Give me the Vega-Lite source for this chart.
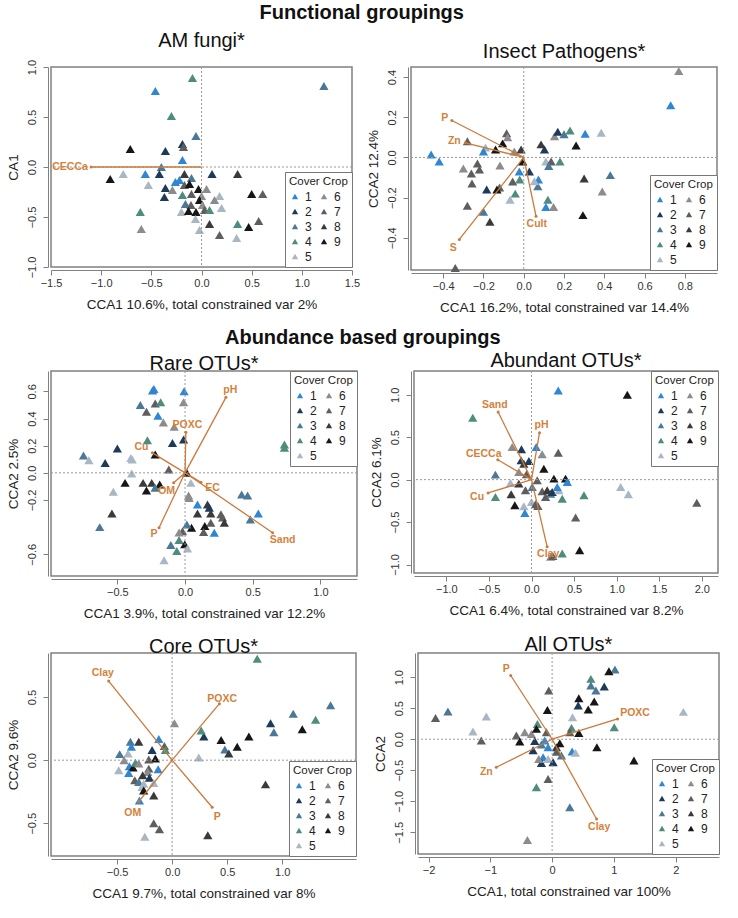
{
"$schema": "https://vega.github.io/schema/vega-lite/v6.json",
"padding": {"left": 5, "top": 2, "right": 5, "bottom": 5},
"config": {
 "font": "Liberation Sans",
 "view": {"stroke": "#808080", "strokeWidth": 1.5},
 "axis": {"grid": false, "domainColor": "#808080", "tickColor": "#808080", "labelColor": "#333", "labelFontSize": 11, "titleFontSize": 13.5, "titleFontWeight": "normal", "titleColor": "#222", "tickSize": 5, "offset": 3, "labelFlush": false, "labelOverlap": false},
 "axisX": {"titlePadding": 9},
 "axisY": {"labelAngle": -90, "labelAlign": "center", "labelBaseline": "bottom", "labelPadding": 6, "titlePadding": 6},
 "legend": {"strokeColor": "#777", "fillColor": "white", "padding": 4, "columns": 2, "columnPadding": 6, "rowPadding": 3, "symbolType": "triangle-up", "symbolSize": 40, "labelFontSize": 12, "labelOffset": 4, "titleFontSize": 11.5, "titleFontWeight": "normal", "titleColor": "#222", "labelColor": "#222", "offset": 0, "titlePadding": 3},
 "title": {"fontSize": 20, "fontWeight": "normal", "color": "#111", "offset": 2}
},
"datasets": {
 "pts": [
{"p":"am","x":-0.46,"y":0.76,"c":1},{"p":"am","x":-0.09,"y":0.89,"c":4},{"p":"am","x":1.22,"y":0.81,"c":3},{"p":"am","x":-0.30,"y":0.51,"c":4},{"p":"am","x":-0.055,"y":0.31,"c":3},{"p":"am","x":-0.71,"y":0.18,"c":9},{"p":"am","x":-0.36,"y":0.16,"c":2},{"p":"am","x":-0.19,"y":0.23,"c":2},{"p":"am","x":-0.18,"y":0.20,"c":7},{"p":"am","x":-0.19,"y":0.07,"c":1},{"p":"am","x":-0.40,"y":0.0,"c":3},{"p":"am","x":-0.91,"y":-0.12,"c":9},{"p":"am","x":-0.78,"y":-0.07,"c":5},{"p":"am","x":-0.56,"y":-0.07,"c":1},{"p":"am","x":-0.53,"y":-0.18,"c":5},{"p":"am","x":-0.42,"y":-0.07,"c":2},{"p":"am","x":-0.36,"y":-0.21,"c":2},{"p":"am","x":-0.37,"y":-0.30,"c":2},{"p":"am","x":-0.26,"y":-0.15,"c":1},{"p":"am","x":-0.22,"y":-0.13,"c":1},{"p":"am","x":-0.29,"y":-0.23,"c":6},{"p":"am","x":-0.17,"y":-0.07,"c":8},{"p":"am","x":-0.10,"y":-0.11,"c":3},{"p":"am","x":-0.17,"y":-0.18,"c":7},{"p":"am","x":-0.12,"y":-0.17,"c":9},{"p":"am","x":0.105,"y":-0.07,"c":2},{"p":"am","x":0.36,"y":-0.07,"c":8},{"p":"am","x":-0.03,"y":-0.22,"c":9},{"p":"am","x":0.05,"y":-0.22,"c":6},{"p":"am","x":-0.19,"y":-0.28,"c":4},{"p":"am","x":-0.10,"y":-0.27,"c":7},{"p":"am","x":0.0,"y":-0.29,"c":6},{"p":"am","x":0.18,"y":-0.29,"c":5},{"p":"am","x":-0.02,"y":-0.33,"c":9},{"p":"am","x":-0.16,"y":-0.37,"c":3},{"p":"am","x":-0.105,"y":-0.38,"c":7},{"p":"am","x":0.01,"y":-0.38,"c":6},{"p":"am","x":0.13,"y":-0.33,"c":6},{"p":"am","x":0.20,"y":-0.41,"c":5},{"p":"am","x":0.03,"y":-0.43,"c":7},{"p":"am","x":0.08,"y":-0.43,"c":4},{"p":"am","x":-0.20,"y":-0.45,"c":5},{"p":"am","x":-0.13,"y":-0.44,"c":9},{"p":"am","x":-0.055,"y":-0.45,"c":9},{"p":"am","x":-0.61,"y":-0.45,"c":4},{"p":"am","x":-0.60,"y":-0.62,"c":6},{"p":"am","x":-0.06,"y":-0.52,"c":5},{"p":"am","x":-0.02,"y":-0.63,"c":5},{"p":"am","x":0.08,"y":-0.57,"c":8},{"p":"am","x":0.18,"y":-0.68,"c":7},{"p":"am","x":0.36,"y":-0.57,"c":4},{"p":"am","x":0.35,"y":-0.71,"c":5},{"p":"am","x":0.47,"y":-0.60,"c":9},{"p":"am","x":0.57,"y":-0.54,"c":7},{"p":"am","x":0.50,"y":-0.27,"c":9},{"p":"am","x":0.61,"y":-0.27,"c":7},
{"p":"ip","x":0.77,"y":0.43,"c":6},{"p":"ip","x":0.73,"y":0.26,"c":1},{"p":"ip","x":-0.46,"y":0.015,"c":1},{"p":"ip","x":-0.42,"y":-0.02,"c":1},{"p":"ip","x":-0.28,"y":0.08,"c":7},{"p":"ip","x":-0.19,"y":0.05,"c":5},{"p":"ip","x":-0.20,"y":0.03,"c":1},{"p":"ip","x":-0.14,"y":0.04,"c":9},{"p":"ip","x":-0.085,"y":0.12,"c":7},{"p":"ip","x":-0.08,"y":0.10,"c":6},{"p":"ip","x":-0.105,"y":0.07,"c":9},{"p":"ip","x":-0.047,"y":0.03,"c":6},{"p":"ip","x":-0.013,"y":0.04,"c":8},{"p":"ip","x":-0.005,"y":-0.02,"c":9},{"p":"ip","x":-0.022,"y":-0.07,"c":1},{"p":"ip","x":0.028,"y":-0.07,"c":2},{"p":"ip","x":-0.02,"y":-0.11,"c":4},{"p":"ip","x":-0.055,"y":-0.12,"c":7},{"p":"ip","x":-0.042,"y":-0.18,"c":4},{"p":"ip","x":-0.068,"y":-0.21,"c":5},{"p":"ip","x":-0.12,"y":-0.15,"c":7},{"p":"ip","x":-0.133,"y":-0.16,"c":9},{"p":"ip","x":-0.184,"y":-0.16,"c":2},{"p":"ip","x":-0.23,"y":-0.03,"c":7},{"p":"ip","x":-0.22,"y":-0.06,"c":7},{"p":"ip","x":-0.30,"y":-0.055,"c":6},{"p":"ip","x":-0.26,"y":-0.08,"c":7},{"p":"ip","x":-0.257,"y":-0.13,"c":7},{"p":"ip","x":-0.28,"y":-0.24,"c":7},{"p":"ip","x":-0.20,"y":-0.27,"c":3},{"p":"ip","x":-0.168,"y":-0.32,"c":8},{"p":"ip","x":-0.118,"y":-0.04,"c":6},{"p":"ip","x":-0.34,"y":-0.55,"c":7},{"p":"ip","x":0.086,"y":0.065,"c":8},{"p":"ip","x":0.103,"y":0.04,"c":2},{"p":"ip","x":0.153,"y":0.106,"c":6},{"p":"ip","x":0.169,"y":0.128,"c":2},{"p":"ip","x":0.20,"y":0.115,"c":3},{"p":"ip","x":0.23,"y":0.134,"c":4},{"p":"ip","x":0.305,"y":0.118,"c":1},{"p":"ip","x":0.385,"y":0.123,"c":5},{"p":"ip","x":0.26,"y":0.06,"c":9},{"p":"ip","x":0.11,"y":-0.02,"c":5},{"p":"ip","x":0.136,"y":-0.02,"c":7},{"p":"ip","x":0.18,"y":-0.02,"c":4},{"p":"ip","x":0.124,"y":-0.043,"c":3},{"p":"ip","x":0.073,"y":-0.11,"c":1},{"p":"ip","x":0.07,"y":-0.143,"c":3},{"p":"ip","x":0.053,"y":-0.118,"c":5},{"p":"ip","x":0.12,"y":-0.21,"c":4},{"p":"ip","x":0.11,"y":-0.247,"c":1},{"p":"ip","x":0.148,"y":-0.247,"c":6},{"p":"ip","x":0.30,"y":-0.105,"c":8},{"p":"ip","x":0.43,"y":-0.088,"c":3},{"p":"ip","x":0.39,"y":-0.17,"c":6},{"p":"ip","x":0.294,"y":-0.287,"c":9},
{"p":"ra","x":-0.23,"y":0.617,"c":1},{"p":"ra","x":-0.24,"y":0.607,"c":1},{"p":"ra","x":-0.007,"y":0.60,"c":1},{"p":"ra","x":-0.011,"y":0.52,"c":6},{"p":"ra","x":-0.33,"y":0.50,"c":3},{"p":"ra","x":-0.22,"y":0.51,"c":7},{"p":"ra","x":-0.18,"y":0.52,"c":4},{"p":"ra","x":-0.285,"y":0.45,"c":7},{"p":"ra","x":-0.20,"y":0.42,"c":1},{"p":"ra","x":-0.16,"y":0.37,"c":6},{"p":"ra","x":-0.08,"y":0.34,"c":6},{"p":"ra","x":-0.093,"y":0.22,"c":2},{"p":"ra","x":-0.011,"y":0.245,"c":2},{"p":"ra","x":-0.278,"y":0.24,"c":4},{"p":"ra","x":-0.50,"y":0.18,"c":2},{"p":"ra","x":-0.75,"y":0.127,"c":3},{"p":"ra","x":-0.71,"y":0.093,"c":5},{"p":"ra","x":-0.59,"y":0.073,"c":2},{"p":"ra","x":-0.40,"y":0.11,"c":5},{"p":"ra","x":-0.39,"y":0.098,"c":5},{"p":"ra","x":-0.394,"y":-0.005,"c":5},{"p":"ra","x":-0.12,"y":0.024,"c":7},{"p":"ra","x":-0.22,"y":0.135,"c":9},{"p":"ra","x":0.013,"y":0.0,"c":9},{"p":"ra","x":-0.443,"y":-0.074,"c":9},{"p":"ra","x":-0.31,"y":-0.074,"c":8},{"p":"ra","x":-0.246,"y":-0.074,"c":8},{"p":"ra","x":-0.285,"y":-0.13,"c":9},{"p":"ra","x":-0.187,"y":-0.086,"c":9},{"p":"ra","x":-0.221,"y":-0.11,"c":3},{"p":"ra","x":-0.53,"y":-0.14,"c":5},{"p":"ra","x":-0.54,"y":-0.30,"c":8},{"p":"ra","x":-0.63,"y":-0.40,"c":3},{"p":"ra","x":0.043,"y":-0.074,"c":5},{"p":"ra","x":0.026,"y":-0.167,"c":6},{"p":"ra","x":0.03,"y":-0.185,"c":6},{"p":"ra","x":0.092,"y":-0.233,"c":1},{"p":"ra","x":0.092,"y":-0.30,"c":8},{"p":"ra","x":0.166,"y":-0.233,"c":8},{"p":"ra","x":0.179,"y":-0.257,"c":2},{"p":"ra","x":0.19,"y":-0.30,"c":8},{"p":"ra","x":0.265,"y":-0.306,"c":7},{"p":"ra","x":0.277,"y":-0.33,"c":7},{"p":"ra","x":0.29,"y":-0.367,"c":8},{"p":"ra","x":0.19,"y":-0.367,"c":7},{"p":"ra","x":0.146,"y":-0.392,"c":9},{"p":"ra","x":0.137,"y":-0.436,"c":7},{"p":"ra","x":0.216,"y":-0.441,"c":1},{"p":"ra","x":0.048,"y":-0.404,"c":9},{"p":"ra","x":0.013,"y":-0.38,"c":3},{"p":"ra","x":-0.019,"y":-0.43,"c":7},{"p":"ra","x":-0.044,"y":-0.44,"c":6},{"p":"ra","x":-0.044,"y":-0.495,"c":4},{"p":"ra","x":-0.105,"y":-0.532,"c":3},{"p":"ra","x":-0.061,"y":-0.576,"c":4},{"p":"ra","x":-0.002,"y":-0.527,"c":9},{"p":"ra","x":0.018,"y":-0.558,"c":5},{"p":"ra","x":-0.155,"y":-0.644,"c":5},{"p":"ra","x":0.418,"y":-0.159,"c":3},{"p":"ra","x":0.462,"y":-0.167,"c":3},{"p":"ra","x":0.541,"y":-0.30,"c":1},{"p":"ra","x":0.482,"y":-0.343,"c":3},{"p":"ra","x":0.734,"y":0.208,"c":4},{"p":"ra","x":0.734,"y":0.184,"c":4},
{"p":"ab","x":0.314,"y":1.05,"c":1},{"p":"ab","x":1.125,"y":1.0,"c":9},{"p":"ab","x":-0.69,"y":0.729,"c":4},{"p":"ab","x":-0.227,"y":0.384,"c":6},{"p":"ab","x":-0.118,"y":0.357,"c":2},{"p":"ab","x":0.055,"y":0.384,"c":1},{"p":"ab","x":0.125,"y":0.298,"c":6},{"p":"ab","x":0.314,"y":0.318,"c":7},{"p":"ab","x":-0.122,"y":0.227,"c":2},{"p":"ab","x":-0.031,"y":0.22,"c":2},{"p":"ab","x":-0.09,"y":0.188,"c":8},{"p":"ab","x":0.145,"y":0.129,"c":9},{"p":"ab","x":-0.424,"y":0.059,"c":3},{"p":"ab","x":-0.149,"y":0.09,"c":6},{"p":"ab","x":-0.059,"y":0.063,"c":7},{"p":"ab","x":0.067,"y":-0.008,"c":7},{"p":"ab","x":0.263,"y":0.012,"c":9},{"p":"ab","x":0.40,"y":0.012,"c":9},{"p":"ab","x":0.42,"y":-0.027,"c":1},{"p":"ab","x":-0.247,"y":-0.039,"c":5},{"p":"ab","x":-0.149,"y":-0.047,"c":8},{"p":"ab","x":-0.071,"y":-0.125,"c":7},{"p":"ab","x":0.008,"y":-0.086,"c":3},{"p":"ab","x":0.125,"y":-0.137,"c":7},{"p":"ab","x":0.224,"y":-0.165,"c":3},{"p":"ab","x":0.243,"y":-0.145,"c":2},{"p":"ab","x":0.322,"y":-0.125,"c":5},{"p":"ab","x":0.302,"y":-0.086,"c":1},{"p":"ab","x":0.165,"y":-0.204,"c":7},{"p":"ab","x":-0.239,"y":-0.173,"c":8},{"p":"ab","x":-0.424,"y":-0.204,"c":4},{"p":"ab","x":0.184,"y":-0.125,"c":8},{"p":"ab","x":-0.196,"y":-0.302,"c":9},{"p":"ab","x":-0.09,"y":-0.314,"c":5},{"p":"ab","x":0.0,"y":-0.263,"c":5},{"p":"ab","x":-0.078,"y":-0.392,"c":1},{"p":"ab","x":0.047,"y":-0.29,"c":7},{"p":"ab","x":0.075,"y":-0.31,"c":7},{"p":"ab","x":0.361,"y":-0.224,"c":4},{"p":"ab","x":0.616,"y":-0.184,"c":4},{"p":"ab","x":1.047,"y":-0.086,"c":5},{"p":"ab","x":1.137,"y":-0.173,"c":5},{"p":"ab","x":1.941,"y":-0.271,"c":7},{"p":"ab","x":0.518,"y":-0.447,"c":7},{"p":"ab","x":0.565,"y":-0.831,"c":9},{"p":"ab","x":0.361,"y":-0.871,"c":4},{"p":"ab","x":0.224,"y":-0.91,"c":6},{"p":"ab","x":0.25,"y":-0.9,"c":7},
{"p":"co","x":0.773,"y":0.805,"c":4},{"p":"co","x":1.439,"y":0.435,"c":3},{"p":"co","x":1.10,"y":0.368,"c":3},{"p":"co","x":1.303,"y":0.32,"c":4},{"p":"co","x":0.894,"y":0.293,"c":2},{"p":"co","x":0.924,"y":0.221,"c":3},{"p":"co","x":1.182,"y":0.245,"c":9},{"p":"co","x":0.697,"y":0.187,"c":9},{"p":"co","x":0.848,"y":-0.192,"c":8},{"p":"co","x":0.445,"y":0.16,"c":9},{"p":"co","x":0.591,"y":0.107,"c":9},{"p":"co","x":0.479,"y":0.085,"c":3},{"p":"co","x":0.515,"y":0.053,"c":8},{"p":"co","x":0.288,"y":0.187,"c":2},{"p":"co","x":0.264,"y":0.235,"c":4},{"p":"co","x":0.242,"y":0.021,"c":5},{"p":"co","x":0.021,"y":0.293,"c":6},{"p":"co","x":-0.121,"y":0.168,"c":1},{"p":"co","x":-0.07,"y":0.112,"c":7},{"p":"co","x":-0.061,"y":0.08,"c":4},{"p":"co","x":-0.182,"y":0.08,"c":2},{"p":"co","x":-0.152,"y":0.013,"c":9},{"p":"co","x":-0.127,"y":-0.072,"c":1},{"p":"co","x":-0.212,"y":-0.067,"c":7},{"p":"co","x":-0.221,"y":-0.093,"c":6},{"p":"co","x":-0.206,"y":-0.139,"c":2},{"p":"co","x":-0.167,"y":-0.181,"c":5},{"p":"co","x":-0.267,"y":-0.12,"c":8},{"p":"co","x":-0.303,"y":0.147,"c":8},{"p":"co","x":-0.379,"y":0.147,"c":3},{"p":"co","x":-0.37,"y":0.107,"c":1},{"p":"co","x":-0.40,"y":0.053,"c":5},{"p":"co","x":-0.476,"y":0.048,"c":3},{"p":"co","x":-0.485,"y":-0.08,"c":5},{"p":"co","x":-0.436,"y":0.0,"c":6},{"p":"co","x":-0.388,"y":-0.048,"c":1},{"p":"co","x":-0.355,"y":-0.059,"c":9},{"p":"co","x":-0.333,"y":-0.02,"c":4},{"p":"co","x":-0.303,"y":-0.027,"c":6},{"p":"co","x":-0.394,"y":-0.101,"c":1},{"p":"co","x":-0.339,"y":-0.16,"c":7},{"p":"co","x":-0.303,"y":-0.173,"c":3},{"p":"co","x":-0.258,"y":-0.187,"c":5},{"p":"co","x":-0.273,"y":-0.213,"c":5},{"p":"co","x":-0.258,"y":-0.24,"c":9},{"p":"co","x":-0.297,"y":-0.32,"c":1},{"p":"co","x":-0.167,"y":-0.28,"c":8},{"p":"co","x":-0.167,"y":-0.501,"c":7},{"p":"co","x":-0.115,"y":-0.547,"c":7},{"p":"co","x":-0.248,"y":-0.608,"c":5},{"p":"co","x":0.324,"y":-0.595,"c":8},{"p":"co","x":-0.212,"y":0.005,"c":7},
{"p":"al","x":1.016,"y":1.124,"c":3},{"p":"al","x":0.919,"y":1.097,"c":9},{"p":"al","x":0.627,"y":0.973,"c":4},{"p":"al","x":0.627,"y":0.866,"c":3},{"p":"al","x":0.708,"y":0.785,"c":3},{"p":"al","x":0.843,"y":0.849,"c":2},{"p":"al","x":-0.054,"y":0.785,"c":7},{"p":"al","x":0.432,"y":0.661,"c":9},{"p":"al","x":0.681,"y":0.608,"c":9},{"p":"al","x":0.422,"y":0.543,"c":2},{"p":"al","x":0.584,"y":0.478,"c":9},{"p":"al","x":-0.076,"y":0.473,"c":9},{"p":"al","x":0.33,"y":0.355,"c":5},{"p":"al","x":-1.686,"y":0.446,"c":3},{"p":"al","x":-1.886,"y":0.344,"c":7},{"p":"al","x":-1.065,"y":0.366,"c":5},{"p":"al","x":-1.281,"y":0.124,"c":5},{"p":"al","x":-1.146,"y":-0.022,"c":7},{"p":"al","x":-0.578,"y":0.059,"c":7},{"p":"al","x":-0.524,"y":-0.038,"c":9},{"p":"al","x":-0.443,"y":0.113,"c":6},{"p":"al","x":-0.335,"y":0.086,"c":6},{"p":"al","x":-0.238,"y":0.247,"c":4},{"p":"al","x":-0.254,"y":0.167,"c":9},{"p":"al","x":-0.092,"y":0.113,"c":7},{"p":"al","x":0.314,"y":0.183,"c":4},{"p":"al","x":0.286,"y":0.113,"c":7},{"p":"al","x":0.432,"y":0.102,"c":9},{"p":"al","x":1.005,"y":0.194,"c":4},{"p":"al","x":2.124,"y":0.441,"c":5},{"p":"al","x":-0.281,"y":-0.027,"c":2},{"p":"al","x":-0.308,"y":-0.177,"c":2},{"p":"al","x":-0.173,"y":-0.086,"c":3},{"p":"al","x":-0.119,"y":-0.022,"c":1},{"p":"al","x":-0.065,"y":-0.129,"c":1},{"p":"al","x":-0.146,"y":-0.29,"c":1},{"p":"al","x":-0.173,"y":-0.382,"c":2},{"p":"al","x":-0.216,"y":-0.317,"c":6},{"p":"al","x":-0.065,"y":-0.317,"c":5},{"p":"al","x":0.016,"y":-0.371,"c":2},{"p":"al","x":0.07,"y":-0.129,"c":8},{"p":"al","x":0.124,"y":-0.064,"c":9},{"p":"al","x":0.151,"y":-0.263,"c":3},{"p":"al","x":0.324,"y":-0.199,"c":1},{"p":"al","x":0.378,"y":-0.22,"c":5},{"p":"al","x":0.07,"y":-0.2,"c":7},{"p":"al","x":0.724,"y":-0.129,"c":9},{"p":"al","x":1.324,"y":-0.344,"c":9},{"p":"al","x":-0.065,"y":-0.64,"c":7},{"p":"al","x":-0.254,"y":-0.774,"c":4},{"p":"al","x":0.286,"y":-1.097,"c":3},{"p":"al","x":-0.40,"y":-1.624,"c":6}
 ],
 "arr": [
{"p":"am","label":"CECCa","x0":0,"y0":0,"x":-1.1,"y":0,"lx":-1.31,"ly":0},
{"p":"ip","label":"P","x0":0,"y0":0,"x":-0.357,"y":0.184,"lx":-0.392,"ly":0.197},{"p":"ip","label":"Zn","x0":0,"y0":0,"x":-0.29,"y":0.073,"lx":-0.345,"ly":0.081},{"p":"ip","label":"S","x0":0,"y0":0,"x":-0.32,"y":-0.408,"lx":-0.35,"ly":-0.45},{"p":"ip","label":"Cult","x0":0,"y0":0,"x":0.061,"y":-0.292,"lx":0.065,"ly":-0.332},
{"p":"ra","label":"pH","x0":0,"y0":0,"x":0.302,"y":0.556,"lx":0.334,"ly":0.607},{"p":"ra","label":"POXC","x0":0,"y0":0,"x":0.006,"y":0.299,"lx":0.018,"ly":0.35},{"p":"ra","label":"Cu","x0":0,"y0":0,"x":-0.241,"y":0.147,"lx":-0.322,"ly":0.191},{"p":"ra","label":"OM","x0":0,"y0":0,"x":-0.084,"y":-0.073,"lx":-0.136,"ly":-0.135},{"p":"ra","label":"EC","x0":0,"y0":0,"x":0.118,"y":-0.069,"lx":0.204,"ly":-0.11},{"p":"ra","label":"P","x0":0,"y0":0,"x":-0.192,"y":-0.404,"lx":-0.229,"ly":-0.453},{"p":"ra","label":"Sand","x0":0,"y0":0,"x":0.647,"y":-0.441,"lx":0.721,"ly":-0.497},
{"p":"ab","label":"Sand","x0":0,"y0":0,"x":-0.392,"y":0.796,"lx":-0.431,"ly":0.882},{"p":"ab","label":"pH","x0":0,"y0":0,"x":0.094,"y":0.553,"lx":0.118,"ly":0.639},{"p":"ab","label":"CECCa","x0":0,"y0":0,"x":-0.396,"y":0.235,"lx":-0.561,"ly":0.298},{"p":"ab","label":"Cu","x0":0,"y0":0,"x":-0.51,"y":-0.157,"lx":-0.639,"ly":-0.204},{"p":"ab","label":"Clay","x0":0,"y0":0,"x":0.184,"y":-0.792,"lx":0.196,"ly":-0.878},
{"p":"co","label":"Clay","x0":0,"y0":0,"x":-0.576,"y":0.627,"lx":-0.63,"ly":0.693},{"p":"co","label":"POXC","x0":0,"y0":0,"x":0.43,"y":0.448,"lx":0.455,"ly":0.488},{"p":"co","label":"OM","x0":0,"y0":0,"x":-0.303,"y":-0.328,"lx":-0.358,"ly":-0.419},{"p":"co","label":"P","x0":0,"y0":0,"x":0.364,"y":-0.373,"lx":0.409,"ly":-0.448},
{"p":"al","label":"P","x0":0,"y0":0,"x":-0.67,"y":1.027,"lx":-0.741,"ly":1.134},{"p":"al","label":"POXC","x0":0,"y0":0,"x":1.059,"y":0.328,"lx":1.341,"ly":0.419},{"p":"al","label":"Zn","x0":0,"y0":0,"x":-0.903,"y":-0.452,"lx":-1.065,"ly":-0.532},{"p":"al","label":"Clay","x0":0,"y0":0,"x":0.719,"y":-1.285,"lx":0.762,"ly":-1.409}
 ]
},
"resolve": {"scale": {"color": "independent"}, "legend": {"color": "independent"}},
"spacing": 12,
"vconcat": [
{
 "title": {"text": "Functional groupings", "fontWeight": "bold", "fontSize": 20, "anchor": "middle", "offset": 8},
 "resolve": {"scale": {"color": "independent"}, "legend": {"color": "independent"}},
 "spacing": 4,
 "hconcat": [
  {"width": 301, "height": 200, "title": {"text": "AM fungi*", "offset": 8},
   "layer": [
    {"data": {"name": "pts"}, "transform": [{"filter": "datum.p == 'am'"}], "mark": {"type": "point", "shape": "triangle-up", "filled": true, "size": 85, "opacity": 1}, "encoding": {"x": {"field": "x", "type": "quantitative", "scale": {"domain": [-1.5, 1.5], "nice": false, "zero": false}, "title": "CCA1 10.6%, total constrained var 2%", "axis": {"values": [-1.5, -1, -0.5, 0, 0.5, 1, 1.5], "format": ".1f"}}, "y": {"field": "y", "type": "quantitative", "scale": {"domain": [-1, 1], "nice": false, "zero": false}, "title": "CA1", "axis": {"values": [-1, -0.5, 0, 0.5, 1], "format": ".1f"}}, "color": {"field": "c", "type": "nominal", "scale": {"domain": [1, 2, 3, 4, 5, 6, 7, 8, 9], "range": ["#2e86d4", "#1e3a5a", "#4a7896", "#4e8c7e", "#a9b6c4", "#8c8c8c", "#5e5e5e", "#3a3a3a", "#161616"]}, "legend": {"title": "Cover Crop", "orient": "bottom-right"}}}},
    {"data": {"values": [{}]}, "mark": {"type": "rule", "color": "#9a9a9a", "strokeDash": [2, 2]}, "encoding": {"x": {"datum": 0, "type": "quantitative"}}},
    {"data": {"values": [{}]}, "mark": {"type": "rule", "color": "#9a9a9a", "strokeDash": [2, 2]}, "encoding": {"y": {"datum": 0, "type": "quantitative"}}},
    {"data": {"name": "arr"}, "transform": [{"filter": "datum.p == 'am'"}], "mark": {"type": "rule", "color": "#c97a3c", "strokeWidth": 1.3}, "encoding": {"x": {"field": "x0", "type": "quantitative"}, "y": {"field": "y0", "type": "quantitative"}, "x2": {"field": "x"}, "y2": {"field": "y"}}},
    {"data": {"name": "arr"}, "transform": [{"filter": "datum.p == 'am'"}], "mark": {"type": "point", "shape": "circle", "filled": true, "size": 9, "color": "#c97a3c", "opacity": 1}, "encoding": {"x": {"field": "x", "type": "quantitative"}, "y": {"field": "y", "type": "quantitative"}}},
    {"data": {"name": "arr"}, "transform": [{"filter": "datum.p == 'am'"}], "mark": {"type": "text", "color": "#d4823a", "fontWeight": "bold", "fontSize": 10.5}, "encoding": {"x": {"field": "lx", "type": "quantitative"}, "y": {"field": "ly", "type": "quantitative"}, "text": {"field": "label"}}}
   ]},
  {"width": 306, "height": 203, "title": {"text": "Insect Pathogens*", "offset": 5},
   "layer": [
    {"data": {"name": "pts"}, "transform": [{"filter": "datum.p == 'ip'"}], "mark": {"type": "point", "shape": "triangle-up", "filled": true, "size": 85, "opacity": 1}, "encoding": {"x": {"field": "x", "type": "quantitative", "scale": {"domain": [-0.56, 0.96], "nice": false, "zero": false}, "title": "CCA1 16.2%, total constrained var 14.4%", "axis": {"values": [-0.4, -0.2, 0, 0.2, 0.4, 0.6, 0.8], "format": ".1f"}}, "y": {"field": "y", "type": "quantitative", "scale": {"domain": [-0.56, 0.45], "nice": false, "zero": false}, "title": "CCA2 12.4%", "axis": {"values": [-0.4, -0.2, 0, 0.2, 0.4], "format": ".1f"}}, "color": {"field": "c", "type": "nominal", "scale": {"domain": [1, 2, 3, 4, 5, 6, 7, 8, 9], "range": ["#2e86d4", "#1e3a5a", "#4a7896", "#4e8c7e", "#a9b6c4", "#8c8c8c", "#5e5e5e", "#3a3a3a", "#161616"]}, "legend": {"title": "Cover Crop", "orient": "bottom-right"}}}},
    {"data": {"values": [{}]}, "mark": {"type": "rule", "color": "#9a9a9a", "strokeDash": [2, 2]}, "encoding": {"x": {"datum": 0, "type": "quantitative"}}},
    {"data": {"values": [{}]}, "mark": {"type": "rule", "color": "#9a9a9a", "strokeDash": [2, 2]}, "encoding": {"y": {"datum": 0, "type": "quantitative"}}},
    {"data": {"name": "arr"}, "transform": [{"filter": "datum.p == 'ip'"}], "mark": {"type": "rule", "color": "#c97a3c", "strokeWidth": 1.3}, "encoding": {"x": {"field": "x0", "type": "quantitative"}, "y": {"field": "y0", "type": "quantitative"}, "x2": {"field": "x"}, "y2": {"field": "y"}}},
    {"data": {"name": "arr"}, "transform": [{"filter": "datum.p == 'ip'"}], "mark": {"type": "point", "shape": "circle", "filled": true, "size": 9, "color": "#c97a3c", "opacity": 1}, "encoding": {"x": {"field": "x", "type": "quantitative"}, "y": {"field": "y", "type": "quantitative"}}},
    {"data": {"name": "arr"}, "transform": [{"filter": "datum.p == 'ip'"}], "mark": {"type": "text", "color": "#d4823a", "fontWeight": "bold", "fontSize": 10.5}, "encoding": {"x": {"field": "lx", "type": "quantitative"}, "y": {"field": "ly", "type": "quantitative"}, "text": {"field": "label"}}}
   ]}
 ]
},
{
 "title": {"text": "Abundance based groupings", "fontWeight": "bold", "fontSize": 20, "anchor": "middle", "offset": 2},
 "resolve": {"scale": {"color": "independent"}, "legend": {"color": "independent"}},
 "spacing": 12,
 "vconcat": [
  {"resolve": {"scale": {"color": "independent"}, "legend": {"color": "independent"}},
   "spacing": 9,
   "hconcat": [
   {"width": 306, "height": 205, "title": {"text": "Rare OTUs*", "offset": -3},
    "layer": [
     {"data": {"name": "pts"}, "transform": [{"filter": "datum.p == 'ra'"}], "mark": {"type": "point", "shape": "triangle-up", "filled": true, "size": 85, "opacity": 1}, "encoding": {"x": {"field": "x", "type": "quantitative", "scale": {"domain": [-0.99, 1.27], "nice": false, "zero": false}, "title": "CCA1 3.9%, total constrained var 12.2%", "axis": {"values": [-0.5, 0, 0.5, 1], "format": ".1f"}}, "y": {"field": "y", "type": "quantitative", "scale": {"domain": [-0.76, 0.75], "nice": false, "zero": false}, "title": "CCA2 2.5%", "axis": {"values": [-0.6, -0.2, 0, 0.2, 0.4, 0.6], "format": ".1f", "labelOverlap": false}}, "color": {"field": "c", "type": "nominal", "scale": {"domain": [1, 2, 3, 4, 5, 6, 7, 8, 9], "range": ["#2e86d4", "#1e3a5a", "#4a7896", "#4e8c7e", "#a9b6c4", "#8c8c8c", "#5e5e5e", "#3a3a3a", "#161616"]}, "legend": {"title": "Cover Crop", "orient": "top-right"}}}},
     {"data": {"values": [{}]}, "mark": {"type": "rule", "color": "#9a9a9a", "strokeDash": [2, 2]}, "encoding": {"x": {"datum": 0, "type": "quantitative"}}},
     {"data": {"values": [{}]}, "mark": {"type": "rule", "color": "#9a9a9a", "strokeDash": [2, 2]}, "encoding": {"y": {"datum": 0, "type": "quantitative"}}},
     {"data": {"name": "arr"}, "transform": [{"filter": "datum.p == 'ra'"}], "mark": {"type": "rule", "color": "#c97a3c", "strokeWidth": 1.3}, "encoding": {"x": {"field": "x0", "type": "quantitative"}, "y": {"field": "y0", "type": "quantitative"}, "x2": {"field": "x"}, "y2": {"field": "y"}}},
     {"data": {"name": "arr"}, "transform": [{"filter": "datum.p == 'ra'"}], "mark": {"type": "point", "shape": "circle", "filled": true, "size": 9, "color": "#c97a3c", "opacity": 1}, "encoding": {"x": {"field": "x", "type": "quantitative"}, "y": {"field": "y", "type": "quantitative"}}},
     {"data": {"name": "arr"}, "transform": [{"filter": "datum.p == 'ra'"}], "mark": {"type": "text", "color": "#d4823a", "fontWeight": "bold", "fontSize": 10.5}, "encoding": {"x": {"field": "lx", "type": "quantitative"}, "y": {"field": "ly", "type": "quantitative"}, "text": {"field": "label"}}}
    ]},
   {"width": 304, "height": 202, "title": {"text": "Abundant OTUs*", "offset": 0},
    "layer": [
     {"data": {"name": "pts"}, "transform": [{"filter": "datum.p == 'ab'"}], "mark": {"type": "point", "shape": "triangle-up", "filled": true, "size": 85, "opacity": 1}, "encoding": {"x": {"field": "x", "type": "quantitative", "scale": {"domain": [-1.38, 2.19], "nice": false, "zero": false}, "title": "CCA1 6.4%, total constrained var 8.2%", "axis": {"values": [-1, -0.5, 0, 0.5, 1, 1.5, 2], "format": ".1f"}}, "y": {"field": "y", "type": "quantitative", "scale": {"domain": [-1.1, 1.28], "nice": false, "zero": false}, "title": "CCA2 6.1%", "axis": {"values": [-1, -0.5, 0, 0.5, 1], "format": ".1f"}}, "color": {"field": "c", "type": "nominal", "scale": {"domain": [1, 2, 3, 4, 5, 6, 7, 8, 9], "range": ["#2e86d4", "#1e3a5a", "#4a7896", "#4e8c7e", "#a9b6c4", "#8c8c8c", "#5e5e5e", "#3a3a3a", "#161616"]}, "legend": {"title": "Cover Crop", "orient": "top-right"}}}},
     {"data": {"values": [{}]}, "mark": {"type": "rule", "color": "#9a9a9a", "strokeDash": [2, 2]}, "encoding": {"x": {"datum": 0, "type": "quantitative"}}},
     {"data": {"values": [{}]}, "mark": {"type": "rule", "color": "#9a9a9a", "strokeDash": [2, 2]}, "encoding": {"y": {"datum": 0, "type": "quantitative"}}},
     {"data": {"name": "arr"}, "transform": [{"filter": "datum.p == 'ab'"}], "mark": {"type": "rule", "color": "#c97a3c", "strokeWidth": 1.3}, "encoding": {"x": {"field": "x0", "type": "quantitative"}, "y": {"field": "y0", "type": "quantitative"}, "x2": {"field": "x"}, "y2": {"field": "y"}}},
     {"data": {"name": "arr"}, "transform": [{"filter": "datum.p == 'ab'"}], "mark": {"type": "point", "shape": "circle", "filled": true, "size": 9, "color": "#c97a3c", "opacity": 1}, "encoding": {"x": {"field": "x", "type": "quantitative"}, "y": {"field": "y", "type": "quantitative"}}},
     {"data": {"name": "arr"}, "transform": [{"filter": "datum.p == 'ab'"}], "mark": {"type": "text", "color": "#d4823a", "fontWeight": "bold", "fontSize": 10.5}, "encoding": {"x": {"field": "lx", "type": "quantitative"}, "y": {"field": "ly", "type": "quantitative"}, "text": {"field": "label"}}}
    ]}
  ]},
  {"resolve": {"scale": {"color": "independent"}, "legend": {"color": "independent"}},
   "spacing": 14,
   "hconcat": [
   {"width": 305, "height": 203, "title": {"text": "Core OTUs*", "offset": -4},
    "layer": [
     {"data": {"name": "pts"}, "transform": [{"filter": "datum.p == 'co'"}], "mark": {"type": "point", "shape": "triangle-up", "filled": true, "size": 85, "opacity": 1}, "encoding": {"x": {"field": "x", "type": "quantitative", "scale": {"domain": [-1.1, 1.67], "nice": false, "zero": false}, "title": "CCA1 9.7%, total constrained var 8%", "axis": {"values": [-0.5, 0, 0.5, 1], "format": ".1f"}}, "y": {"field": "y", "type": "quantitative", "scale": {"domain": [-0.76, 0.85], "nice": false, "zero": false}, "title": "CCA2 9.6%", "axis": {"values": [-0.5, 0, 0.5], "format": ".1f"}}, "color": {"field": "c", "type": "nominal", "scale": {"domain": [1, 2, 3, 4, 5, 6, 7, 8, 9], "range": ["#2e86d4", "#1e3a5a", "#4a7896", "#4e8c7e", "#a9b6c4", "#8c8c8c", "#5e5e5e", "#3a3a3a", "#161616"]}, "legend": {"title": "Cover Crop", "orient": "bottom-right"}}}},
     {"data": {"values": [{}]}, "mark": {"type": "rule", "color": "#9a9a9a", "strokeDash": [2, 2]}, "encoding": {"x": {"datum": 0, "type": "quantitative"}}},
     {"data": {"values": [{}]}, "mark": {"type": "rule", "color": "#9a9a9a", "strokeDash": [2, 2]}, "encoding": {"y": {"datum": 0, "type": "quantitative"}}},
     {"data": {"name": "arr"}, "transform": [{"filter": "datum.p == 'co'"}], "mark": {"type": "rule", "color": "#c97a3c", "strokeWidth": 1.3}, "encoding": {"x": {"field": "x0", "type": "quantitative"}, "y": {"field": "y0", "type": "quantitative"}, "x2": {"field": "x"}, "y2": {"field": "y"}}},
     {"data": {"name": "arr"}, "transform": [{"filter": "datum.p == 'co'"}], "mark": {"type": "point", "shape": "circle", "filled": true, "size": 9, "color": "#c97a3c", "opacity": 1}, "encoding": {"x": {"field": "x", "type": "quantitative"}, "y": {"field": "y", "type": "quantitative"}}},
     {"data": {"name": "arr"}, "transform": [{"filter": "datum.p == 'co'"}], "mark": {"type": "text", "color": "#d4823a", "fontWeight": "bold", "fontSize": 10.5}, "encoding": {"x": {"field": "lx", "type": "quantitative"}, "y": {"field": "ly", "type": "quantitative"}, "text": {"field": "label"}}}
    ]},
   {"width": 301, "height": 201, "title": {"text": "All OTUs*", "offset": -2},
    "layer": [
     {"data": {"name": "pts"}, "transform": [{"filter": "datum.p == 'al'"}], "mark": {"type": "point", "shape": "triangle-up", "filled": true, "size": 85, "opacity": 1}, "encoding": {"x": {"field": "x", "type": "quantitative", "scale": {"domain": [-2.17, 2.7], "nice": false, "zero": false}, "title": "CCA1, total constrained var 100%", "axis": {"values": [-2, -1, 0, 1, 2], "format": "d"}}, "y": {"field": "y", "type": "quantitative", "scale": {"domain": [-1.85, 1.39], "nice": false, "zero": false}, "title": "CCA2", "axis": {"values": [-1.5, -1, -0.5, 0, 0.5, 1], "format": ".1f"}}, "color": {"field": "c", "type": "nominal", "scale": {"domain": [1, 2, 3, 4, 5, 6, 7, 8, 9], "range": ["#2e86d4", "#1e3a5a", "#4a7896", "#4e8c7e", "#a9b6c4", "#8c8c8c", "#5e5e5e", "#3a3a3a", "#161616"]}, "legend": {"title": "Cover Crop", "orient": "bottom-right"}}}},
     {"data": {"values": [{}]}, "mark": {"type": "rule", "color": "#9a9a9a", "strokeDash": [2, 2]}, "encoding": {"x": {"datum": 0, "type": "quantitative"}}},
     {"data": {"values": [{}]}, "mark": {"type": "rule", "color": "#9a9a9a", "strokeDash": [2, 2]}, "encoding": {"y": {"datum": 0, "type": "quantitative"}}},
     {"data": {"name": "arr"}, "transform": [{"filter": "datum.p == 'al'"}], "mark": {"type": "rule", "color": "#c97a3c", "strokeWidth": 1.3}, "encoding": {"x": {"field": "x0", "type": "quantitative"}, "y": {"field": "y0", "type": "quantitative"}, "x2": {"field": "x"}, "y2": {"field": "y"}}},
     {"data": {"name": "arr"}, "transform": [{"filter": "datum.p == 'al'"}], "mark": {"type": "point", "shape": "circle", "filled": true, "size": 9, "color": "#c97a3c", "opacity": 1}, "encoding": {"x": {"field": "x", "type": "quantitative"}, "y": {"field": "y", "type": "quantitative"}}},
     {"data": {"name": "arr"}, "transform": [{"filter": "datum.p == 'al'"}], "mark": {"type": "text", "color": "#d4823a", "fontWeight": "bold", "fontSize": 10.5}, "encoding": {"x": {"field": "lx", "type": "quantitative"}, "y": {"field": "ly", "type": "quantitative"}, "text": {"field": "label"}}}
    ]}
  ]}
 ]
}
]
}
